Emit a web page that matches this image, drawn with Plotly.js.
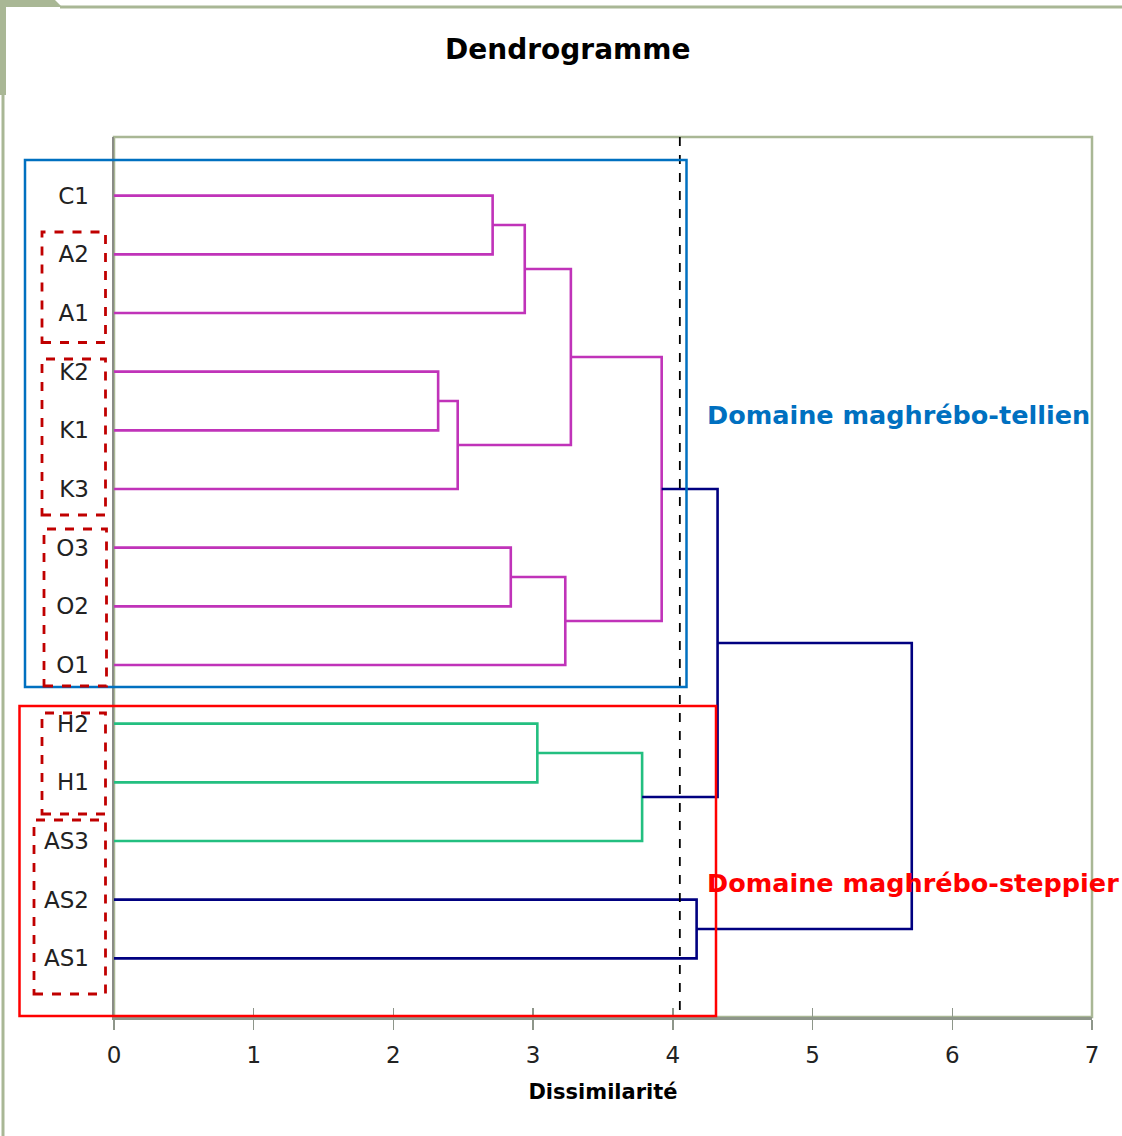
<!DOCTYPE html>
<html>
<head>
<meta charset="utf-8">
<script src="https://cdn.plot.ly/plotly-3.0.1.min.js"></script>
<style>html,body{margin:0;padding:0;background:#fff;}#chart{width:1122px;height:1136px;}</style>
</head>
<body>
<div id="chart"></div>
<script>
// ---- data ----
const leaves = ['C1','A2','A1','K2','K1','K3','O3','O2','O1','H2','H1','AS3','AS2','AS1'];
// merges: node ids 0..13 are leaves, merge k gets id 14+k
const mergeLeft   = [0, 14, 3, 16, 15, 6, 19, 18, 9, 22, 21, 12, 24];
const mergeRight  = [1, 2, 4, 5, 17, 7, 8, 20, 10, 11, 23, 13, 25];
const mergeHeight = [2.71, 2.94, 2.32, 2.46, 3.27, 2.84, 3.23, 3.92, 3.03, 3.78, 4.32, 4.17, 5.71];
const mergeGroup  = ['t','t','t','t','t','t','t','t','g','g','n','n','n'];
const cutHeight = 4.05;
const xTicks = [0,1,2,3,4,5,6,7];
const groupLabelTell = 'Domaine maghrébo-tellien';
const groupLabelStep = 'Domaine maghrébo-steppier';

// ---- build dendrogram segments ----
const groupColor = {t:'#C033B9', g:'#23BF80', n:'#000080'};
const nodeY = leaves.map((_, i) => i + 1);
const nodeH = leaves.map(() => 0);
const segs = {t:{x:[],y:[]}, g:{x:[],y:[]}, n:{x:[],y:[]}};
mergeLeft.forEach((a, k) => {
  const b = mergeRight[k], h = mergeHeight[k], s = segs[mergeGroup[k]];
  s.x.push(nodeH[a], h, h, nodeH[b], null);
  s.y.push(nodeY[a], nodeY[a], nodeY[b], nodeY[b], null);
  nodeY.push((nodeY[a] + nodeY[b]) / 2);
  nodeH.push(h);
});
const traces = Object.keys(segs).map(k => ({
  type:'scatter', mode:'lines', x:segs[k].x, y:segs[k].y,
  line:{color:groupColor[k], width:2.6}, hoverinfo:'skip', showlegend:false
}));
traces.push({type:'scatter', mode:'lines', x:[cutHeight, cutHeight], y:[0, leaves.length + 1],
  line:{color:'#000', width:1.8, dash:'dash'}, hoverinfo:'skip', showlegend:false});

// ---- layout helpers (pixel -> paper) ----
const L = 114, R = 1092, T = 137, B = 1017;
const px = v => (v - L) / (R - L);
const py = v => (B - v) / (B - T);
const rect = (x0, y0, x1, y1, color, w, dash) => ({type:'rect', xref:'paper', yref:'paper',
  x0:px(x0), x1:px(x1), y0:py(y1), y1:py(y0), line:{color:color, width:w, dash:dash||'solid'}, fillcolor:'rgba(0,0,0,0)'});
const line = (x0, y0, x1, y1, color, w) => ({type:'line', xref:'paper', yref:'paper',
  x0:px(x0), x1:px(x1), y0:py(y0), y1:py(y1), line:{color:color, width:w}});

const shapes = [
  // plot frame
  {type:'rect', xref:'paper', yref:'paper', x0:0, x1:1, y0:0, y1:1, line:{color:'#A9B795', width:2.5}, layer:'below'},
  // slide decoration
  line(60, 7, 1122, 7, '#A9B795', 3),
  line(3, 7, 3, 95, '#A9B795', 6),
  line(3, 95, 3, 1136, '#A9B795', 3),
  {type:'path', xref:'paper', yref:'paper', path:`M ${px(0)} ${py(0)} L ${px(55)} ${py(0)} L ${px(62)} ${py(7)} L ${px(0)} ${py(7)} Z`, fillcolor:'#A9B795', line:{width:0}},
  // domain boxes
  rect(25, 160, 686.5, 687, '#0070C0', 2.5),
  rect(19.5, 706, 716, 1016, '#FF0000', 2.5),
  // sub-group dashed boxes
  rect(42, 232, 105.5, 342.5, '#C00000', 2.8, 'dash'),
  rect(42, 359, 105.5, 515, '#C00000', 2.8, 'dash'),
  rect(44, 529, 106.5, 686, '#C00000', 2.8, 'dash'),
  rect(42, 713, 105.5, 814, '#C00000', 2.8, 'dash'),
  rect(34, 820, 105.5, 994, '#C00000', 2.8, 'dash')
];

const FONT = 'DejaVu Sans, sans-serif';
const layout = {
  width:1122, height:1136,
  margin:{l:L, r:1122-R, t:T, b:1136-B, pad:0},
  paper_bgcolor:'#fff', plot_bgcolor:'#fff',
  title:{text:'<b>Dendrogramme</b>', x:0.506, xref:'container', xanchor:'center', y:1-49/1136, yref:'container', yanchor:'middle',
    font:{family:FONT, size:28, color:'#000'}},
  xaxis:{range:[0,7], tickvals:xTicks, ticktext:xTicks.map(String), showgrid:false, zeroline:false,
    showline:true, linecolor:'#8E968A', linewidth:2.5, ticks:'outside', ticklen:10, tickwidth:1.5, tickcolor:'#8E968A',
    tickfont:{family:FONT, size:23, color:'#222'}, ticklabelstandoff:6,
    title:{text:'<b>Dissimilarité</b>', font:{family:FONT, size:21, color:'#000'}, standoff:17}},
  xaxis2:{range:[0,7], overlaying:'x', anchor:'y', side:'bottom', tickvals:xTicks, showticklabels:false, showgrid:false,
    zeroline:false, showline:false, ticks:'inside', ticklen:9, tickwidth:1.5, tickcolor:'#8E968A'},
  yaxis:{range:[leaves.length + 1, 0], tickvals:leaves.map((_, i) => i + 1), ticktext:leaves, showgrid:false, zeroline:false,
    showline:true, linecolor:'#8A8C86', linewidth:2.5, ticks:'', tickfont:{family:FONT, size:23, color:'#222'}, ticklabelstandoff:18},
  shapes:shapes,
  annotations:[
    {xref:'paper', yref:'paper', x:px(705), y:py(415), xanchor:'left', yanchor:'middle', showarrow:false,
     text:'<b>' + groupLabelTell + '</b>', font:{family:FONT, size:25.5, color:'#0070C0'}},
    {xref:'paper', yref:'paper', x:px(705), y:py(883), xanchor:'left', yanchor:'middle', showarrow:false,
     text:'<b>' + groupLabelStep + '</b>', font:{family:FONT, size:25.5, color:'#FF0000'}}
  ],
  showlegend:false
};
traces.push({type:'scatter', x:[0], y:[1], xaxis:'x2', mode:'markers', marker:{opacity:0}, hoverinfo:'skip', showlegend:false});
Plotly.newPlot('chart', traces, layout, {staticPlot:true});
</script>
</body>
</html>
